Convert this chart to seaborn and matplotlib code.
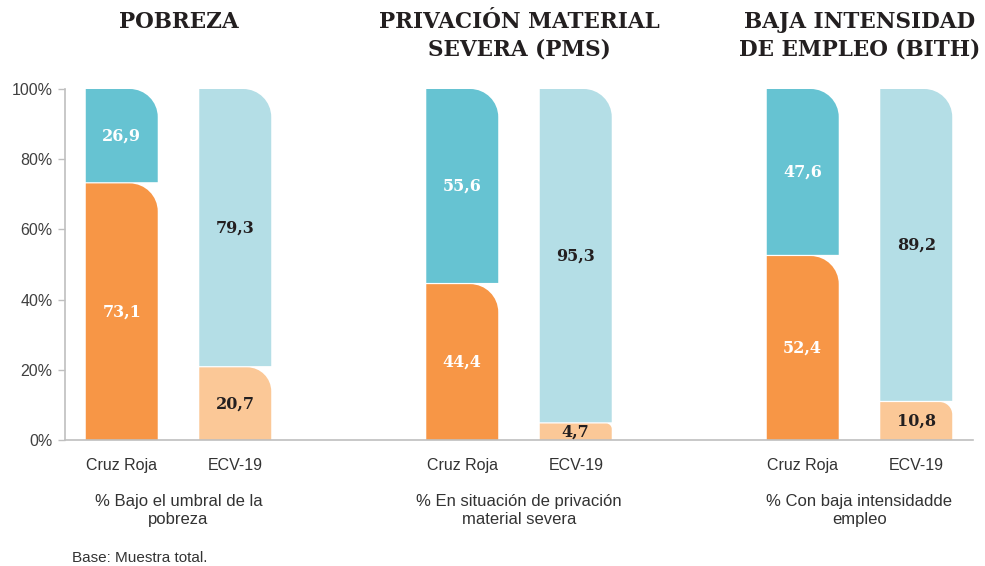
import numpy as np
import pandas as pd
import matplotlib
matplotlib.use('Agg')
import matplotlib.pyplot as plt
from matplotlib.path import Path
from matplotlib.patches import PathPatch
import seaborn as sns

# Datos del grafico
groups = ['POBREZA', 'PRIVACIÓN MATERIAL\nSEVERA (PMS)', 'BAJA INTENSIDAD\nDE EMPLEO (BITH)']
subtitles = ['% Bajo el umbral de la\npobreza',
             '% En situación de privación\nmaterial severa',
             '% Con baja intensidadde\nempleo']
sources = ['Cruz Roja', 'ECV-19']
cruz_roja_si = [73.1, 44.4, 52.4]
cruz_roja_no = [26.9, 55.6, 47.6]
ecv_si = [20.7, 4.7, 10.8]
ecv_no = [79.3, 95.3, 89.2]
yticks = [0, 20, 40, 60, 80, 100]
footnote = 'Base: Muestra total.'

COL_CR_BOT = '#F79646'
COL_CR_TOP = '#66C3D2'
COL_ECV_BOT = '#FBC897'
COL_ECV_TOP = '#B4DEE6'

# posiciones: grupos separados por 3 unidades
positions = []
bottoms = []
tops = []
colors_bot = []
colors_top = []
for g in range(len(groups)):
    positions += [3 * g, 3 * g + 1]
    bottoms += [cruz_roja_si[g], ecv_si[g]]
    tops += [cruz_roja_no[g], ecv_no[g]]
    colors_bot += [COL_CR_BOT, COL_ECV_BOT]
    colors_top += [COL_CR_TOP, COL_ECV_TOP]

df = pd.DataFrame({'pos': positions, 'si': bottoms, 'no': tops})
df['total'] = df['si'] + df['no']

sns.set_style('white')
plt.rcParams['font.family'] = ['Liberation Sans', 'DejaVu Sans']

fig = plt.figure(figsize=(9.85, 5.66), dpi=100)
W, H = 985, 566
ax = fig.add_axes([65 / W, 1 - 440 / H, (973 - 65) / W, (440 - 89) / H])

BAR_W = 0.634
sns.barplot(data=df, x='pos', y='total', native_scale=True, width=BAR_W,
            errorbar=None, ax=ax, color=COL_CR_TOP)
sns.barplot(data=df, x='pos', y='si', native_scale=True, width=BAR_W,
            errorbar=None, ax=ax, color=COL_CR_BOT)

ax.set_xlim(-0.5, 7.5)
ax.set_ylim(0, 100)

# pixeles por unidad de datos
px_x = (973 - 65) / 8.0
px_y = (440 - 89) / 100.0


def rounded_bar(x0, x1, y0, y1, color):
    h_px = (y1 - y0) * px_y
    r_px = min(28, 0.33 * h_px)
    rx = r_px / px_x
    ry = r_px / px_y
    k = 0.5523
    verts = [(x0, y0), (x1, y0), (x1, y1 - ry),
             (x1, y1 - ry + k * ry), (x1 - rx + k * rx, y1), (x1 - rx, y1),
             (x0, y1), (x0, y0)]
    codes = [Path.MOVETO, Path.LINETO, Path.LINETO,
             Path.CURVE4, Path.CURVE4, Path.CURVE4,
             Path.LINETO, Path.CLOSEPOLY]
    ax.add_patch(PathPatch(Path(verts, codes), facecolor=color,
                           edgecolor='none', zorder=2))


# reemplazar las barras de seaborn por barras apiladas con esquina redondeada
n = len(df)
patches = list(ax.patches)
top_patches = patches[:n]
bot_patches = patches[n:]
for i, (pt, pb) in enumerate(zip(top_patches, bot_patches)):
    x0 = pb.get_x()
    x1 = x0 + pb.get_width()
    yb = pb.get_height()
    pt.remove()
    pb.remove()
    rounded_bar(x0, x1, 0, yb, colors_bot[i])
    rounded_bar(x0, x1, yb + 0.35, 100, colors_top[i])
    lab_col = 'white' if i % 2 == 0 else '#231F20'
    xc = (x0 + x1) / 2
    ax.text(xc, yb / 2, f'{bottoms[i]:.1f}'.replace('.', ','), ha='center', va='center',
            color=lab_col, fontsize=11.5, fontweight='bold', family='DejaVu Serif', zorder=3)
    ax.text(xc, yb + (100 - yb) / 2, f'{tops[i]:.1f}'.replace('.', ','), ha='center',
            va='center', color=lab_col, fontsize=11.5, fontweight='bold',
            family='DejaVu Serif', zorder=3)

# ejes
for s in ['top', 'right']:
    ax.spines[s].set_visible(False)
for s in ['left', 'bottom']:
    ax.spines[s].set_color('#BFBFBF')
    ax.spines[s].set_linewidth(1.2)
ax.set_yticks(yticks)
ax.set_yticklabels([f'{t}%' for t in yticks])
ax.tick_params(axis='y', length=5, width=1, color='#BFBFBF', pad=4,
               labelsize=11.5, labelcolor='#404040', left=True)
ax.set_xticks(positions)
ax.set_xticklabels(sources * len(groups))
ax.tick_params(axis='x', length=0, pad=13, labelsize=11.5, labelcolor='#333333')
ax.set_xlabel('')
ax.set_ylabel('')

# titulos y subtitulos por grupo
for g in range(len(groups)):
    xc = 3 * g + 0.5
    xf = (65 + (xc + 0.5) * px_x) / W
    fig.text(xf, 1 - 11 / H, groups[g], ha='center', va='top', fontsize=15.5,
             fontweight='bold', family='DejaVu Serif', color='#231F20', linespacing=1.35)
    fig.text(xf, 1 - 494 / H, subtitles[g], ha='center', va='top', fontsize=12,
             color='#333333', linespacing=1.25)

fig.text(72 / W, 1 - 558 / H, footnote, ha='left', va='center', fontsize=11,
         color='#333333')

fig.savefig('out.png', dpi=100, facecolor='white')
